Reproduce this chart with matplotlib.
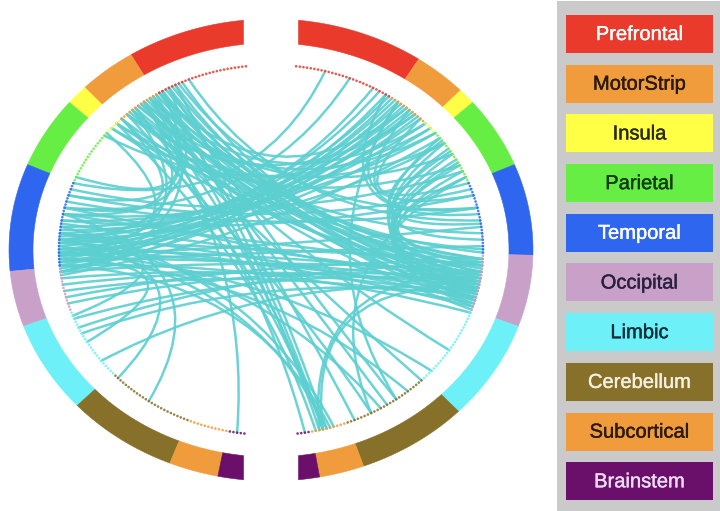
import numpy as np
import matplotlib as mpl
mpl.use('Agg')
import matplotlib.pyplot as plt
import matplotlib.patheffects as pe
from matplotlib.patches import Polygon, Rectangle, PathPatch
from matplotlib.path import Path

# lobes, drawn clockwise on the right half and counter-clockwise on the left half
regions = ["Prefrontal", "MotorStrip", "Insula", "Parietal", "Temporal",
           "Occipital", "Limbic", "Cerebellum", "Subcortical", "Brainstem"]
region_colors = ["#e93a2b", "#f09c3c", "#ffff46", "#66ee44", "#2f66f0",
                 "#c8a0c8", "#6ef0f8", "#86702a", "#f09c3c", "#6a0f6a"]
label_colors = ["#ffffff", "#2a1a08", "#2a2a10", "#143c14", "#ffffff",
                "#2a2040", "#10303c", "#f4f0e0", "#2a1a08", "#eadcf0"]

# number of nodes per lobe in each hemisphere
left_counts = [26, 13, 5, 18, 27, 14, 23, 25, 11, 5]
right_counts = [28, 12, 4, 18, 23, 18, 25, 25, 10, 4]

# connections: (hemisphere, node index, hemisphere, node index)
edges = [
    # left frontal -> right temporal / occipital
    ("L", 18, "R", 92), ("L", 20, "R", 95), ("L", 21, "R", 88), ("L", 22, "R", 97),
    ("L", 23, "R", 90), ("L", 24, "R", 99), ("L", 25, "R", 86), ("L", 26, "R", 93),
    ("L", 27, "R", 96), ("L", 28, "R", 84), ("L", 29, "R", 100), ("L", 30, "R", 91),
    ("L", 31, "R", 94), ("L", 32, "R", 78), ("L", 33, "R", 98), ("L", 34, "R", 89),
    ("L", 35, "R", 102), ("L", 36, "R", 87), ("L", 38, "R", 95), ("L", 40, "R", 83),
    ("L", 42, "R", 92), ("L", 16, "R", 74), ("L", 19, "R", 70),
    # right frontal -> left temporal
    ("R", 22, "L", 84), ("R", 24, "L", 80), ("R", 26, "L", 88), ("R", 27, "L", 78),
    ("R", 28, "L", 86), ("R", 29, "L", 82), ("R", 30, "L", 90), ("R", 31, "L", 76),
    ("R", 32, "L", 85), ("R", 33, "L", 79), ("R", 34, "L", 87), ("R", 35, "L", 83),
    ("R", 36, "L", 74), ("R", 37, "L", 89), ("R", 38, "L", 81), ("R", 40, "L", 77),
    ("R", 42, "L", 85), ("R", 44, "L", 72), ("R", 46, "L", 91), ("R", 48, "L", 80),
    ("R", 8, "L", 62), ("R", 15, "L", 70),
    # temporal <-> temporal / occipital
    ("L", 66, "R", 64), ("L", 68, "R", 70), ("L", 70, "R", 96), ("L", 72, "R", 88),
    ("L", 75, "R", 93), ("L", 78, "R", 99), ("L", 80, "R", 86), ("L", 81, "R", 101),
    ("L", 83, "R", 91), ("L", 84, "R", 97), ("L", 86, "R", 94), ("L", 87, "R", 82),
    ("L", 88, "R", 103), ("L", 90, "R", 90), ("L", 92, "R", 98), ("L", 94, "R", 95),
    ("L", 96, "R", 100), ("L", 98, "R", 87), ("L", 100, "R", 92), ("L", 64, "R", 58),
    ("L", 74, "R", 66), ("L", 85, "R", 76),
    # within right hemisphere
    ("R", 46, "R", 92), ("R", 48, "R", 96), ("R", 50, "R", 88), ("R", 52, "R", 99),
    ("R", 54, "R", 94), ("R", 56, "R", 90), ("R", 58, "R", 97), ("R", 60, "R", 86),
    ("R", 47, "R", 75), ("R", 51, "R", 80), ("R", 30, "R", 66), ("R", 34, "R", 70),
    ("R", 38, "R", 62), ("R", 26, "R", 72), ("R", 55, "R", 101),
    # within left hemisphere
    ("L", 22, "L", 72), ("L", 26, "L", 66), ("L", 30, "L", 80), ("L", 34, "L", 85),
    ("L", 24, "L", 90), ("L", 38, "L", 70), ("L", 28, "L", 60), ("L", 44, "L", 84),
    # frontal arcs across the top
    ("L", 28, "R", 40), ("L", 32, "R", 44), ("L", 36, "R", 36), ("L", 40, "R", 48),
    ("L", 45, "R", 42), ("L", 30, "R", 52), ("L", 42, "R", 56), ("L", 25, "R", 33),
    # right subcortical / brainstem / cerebellum -> left
    ("R", 159, "L", 24), ("R", 159, "L", 30), ("R", 159, "L", 36), ("R", 158, "L", 82),
    ("R", 160, "L", 27), ("R", 157, "L", 88), ("R", 161, "L", 40), ("R", 158, "L", 20),
    ("R", 164, "L", 33), ("R", 156, "L", 76),
    ("R", 137, "L", 22), ("R", 140, "L", 28), ("R", 142, "L", 80), ("R", 128, "L", 34),
    ("R", 133, "L", 86), ("R", 145, "L", 38), ("R", 150, "L", 25), ("R", 116, "L", 31),
    ("R", 124, "L", 84),
    ("R", 137, "R", 30), ("R", 145, "R", 60), ("R", 159, "R", 95), ("R", 160, "R", 90),
    # left limbic / cerebellum / brainstem
    ("L", 127, "L", 80), ("L", 138, "L", 72), ("L", 164, "L", 30), ("L", 113, "L", 86),
    ("L", 120, "R", 96), ("L", 108, "R", 88), ("L", 104, "L", 78), ("L", 105, "R", 93),
    ("L", 110, "R", 98),
]

# layout (pixels)
CX, CY = 271, 250
RING_OUT = (262, 231)
RING_IN = (238, 207)
DOTS = (212, 185)
START, STEP = 6.3, 1.0
GAP_HALF = 27.5   # half width of the straight cut at top and bottom
LINE_COLOR = "#5ccfd1"


def pos(side, t_deg, r):
    t = np.radians(t_deg)
    s = -1 if side == "L" else 1
    return CX + s * r[0] * np.sin(t), CY - r[1] * np.cos(t)


def node_angle(i):
    return START + (i + 0.5) * STEP


def cut_angle(r, top=True):
    a = np.degrees(np.arcsin(GAP_HALF / r[0]))
    return a if top else 180 - a


fig = plt.figure(figsize=(7.2, 5.11), dpi=100)
ax = fig.add_axes([0, 0, 1, 1])
ax.set_xlim(0, 720)
ax.set_ylim(511, 0)
ax.axis('off')

counts = {"L": left_counts, "R": right_counts}

# outer ring + node dots
for side in ["L", "R"]:
    cum = 0
    nreg = len(counts[side])
    for k, n in enumerate(counts[side]):
        t0 = START + cum * STEP
        t1 = t0 + n * STEP
        to0, ti0, to1, ti1 = t0, t0, t1, t1
        if k == 0:
            to0, ti0 = cut_angle(RING_OUT), cut_angle(RING_IN)
        if k == nreg - 1:
            to1, ti1 = cut_angle(RING_OUT, False), cut_angle(RING_IN, False)
        ox, oy = pos(side, np.linspace(to0, to1, 40), RING_OUT)
        ix, iy = pos(side, np.linspace(ti1, ti0, 40), RING_IN)
        poly = np.column_stack([np.concatenate([ox, ix]), np.concatenate([oy, iy])])
        ax.add_patch(Polygon(poly, closed=True, facecolor=region_colors[k],
                             edgecolor=region_colors[k], lw=0.4, zorder=1))
        idx = np.arange(cum, cum + n)
        dx, dy = pos(side, node_angle(idx), DOTS)
        ax.scatter(dx, dy, s=3.5, color=region_colors[k], edgecolors='none',
                   alpha=0.85, zorder=3)
        cum += n

# connections as quadratic curves bent toward the centre
K = 0.25
for sa, ia, sb, ib in edges:
    ax_, ay_ = pos(sa, node_angle(ia), DOTS)
    bx, by = pos(sb, node_angle(ib), DOTS)
    mx, my = (ax_ + bx) / 2, (ay_ + by) / 2
    cx_, cy_ = CX + K * (mx - CX), CY + K * (my - CY)
    path = Path([(ax_, ay_), (cx_, cy_), (bx, by)],
                [Path.MOVETO, Path.CURVE3, Path.CURVE3])
    ax.add_patch(PathPatch(path, facecolor='none', edgecolor=LINE_COLOR,
                           lw=1.8, alpha=0.9, capstyle='round', zorder=2))

# legend panel
ax.add_patch(Rectangle((557, 1), 163, 510, facecolor="#cacaca", edgecolor='none'))
for k, name in enumerate(regions):
    y0 = 15 + k * 49.7
    ax.add_patch(Rectangle((566, y0), 147, 38, facecolor=region_colors[k],
                           edgecolor='none'))
    ax.text(639.5, y0 + 19.5, name, ha='center', va='center', fontsize=14.5,
            color=label_colors[k], family=['Liberation Sans', 'DejaVu Sans'],
            path_effects=[pe.withStroke(linewidth=0.3, foreground=label_colors[k])])

fig.savefig("out.png", dpi=100)
